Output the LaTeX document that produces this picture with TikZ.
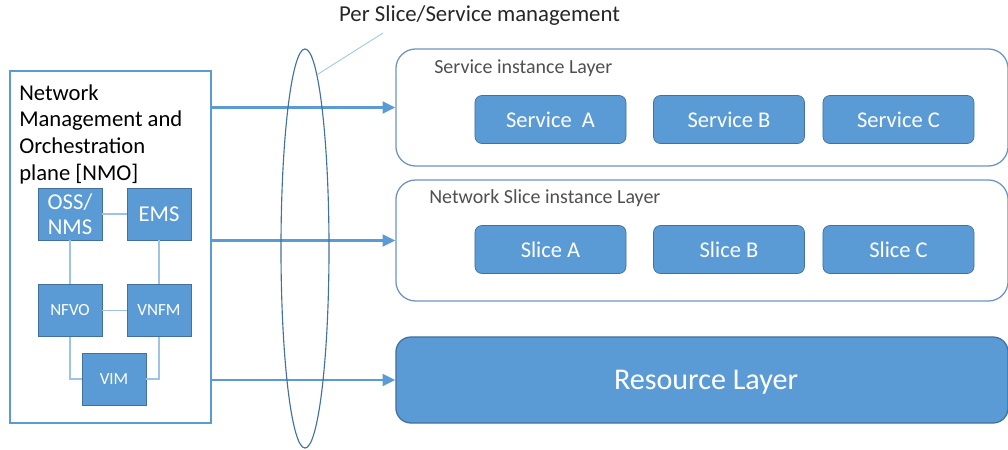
\documentclass[tikz,border=0pt]{standalone}
\usepackage{fontspec}
\setmainfont{Carlito}
\usepackage{tikz}
\usetikzlibrary{shapes,arrows.meta}
\definecolor{boxblue}{HTML}{5B9BD5}
\definecolor{edgeblue}{HTML}{41719C}
\definecolor{lineblue}{HTML}{9DC3E6}
\definecolor{frameblue}{HTML}{6C93C4}
\definecolor{labelgrey}{HTML}{505050}
\definecolor{titlegrey}{HTML}{262626}
\tikzstyle{block}=[rectangle,fill=boxblue,draw=edgeblue,line width=0.5pt,text=white,inner sep=0pt,minimum width=1.6cm,minimum height=1.3cm]

\begin{document}
\begin{tikzpicture}[x=0.025cm,y=-0.025cm]
    \tikzstyle{block}=[rectangle,fill=boxblue,draw=edgeblue,line width=0.5pt,text=white,inner sep=0pt,minimum width=1.6cm,minimum height=1.3cm]
    \tikzstyle{nfvblock}=[block,font=\fontsize{12.1}{14}\selectfont]
    \tikzstyle{item}=[block,rounded corners=5pt,minimum width=3.775cm,minimum height=1.2cm,font=\fontsize{16}{19}\selectfont]
    \tikzstyle{layer}=[rectangle,rounded corners=14pt,draw=frameblue,line width=0.9pt,minimum width=15.3cm,inner sep=0pt]
    \tikzstyle{layerlabel}=[anchor=west,inner sep=0pt,text=labelgrey,font=\fontsize{14.2}{17}\selectfont]
    \tikzstyle{feed}=[draw=boxblue,line width=1.6pt,-{Triangle[length=9pt,width=8.5pt]}]
    \tikzstyle{link}=[draw=lineblue,line width=0.8pt]
    \useasboundingbox (0,0) rectangle (1008,449);

    % management plane
    \node[draw=boxblue,line width=0.8pt,minimum width=5.025cm,minimum height=8.8cm,inner sep=0pt] (NMO) at (110.5,247) {};
    \node[anchor=north west,inner sep=0pt,align=left,font=\fontsize{16.1}{19}\selectfont] (NMOtext) at (19,84) {Network\\Management and\\Orchestration\\plane [NMO]};
    \node[block,align=center,font=\fontsize{16.1}{17.8}\selectfont] (OSS) at (70,214) {OSS/\\NMS};
    \node[block,font=\fontsize{16.1}{19}\selectfont] (EMS) at (159,214) {EMS};
    \node[nfvblock] (NFVO) at (70,310.5) {NFVO};
    \node[nfvblock] (VNFM) at (159,310.5) {VNFM};
    \node[nfvblock] (VIM) at (114,379) {VIM};
    \draw[link] (OSS) -- (EMS);
    \draw[link] (OSS) -- (NFVO);
    \draw[link] (EMS) -- (VNFM);
    \draw[link] (NFVO) -- (VNFM);
    \draw[link] (NFVO) |- (VIM);
    \draw[link] (VNFM) |- (VIM);

    % layers
    \node[layer,minimum height=2.925cm] (SIL) at (702,107.5) {};
    \node[layer,minimum height=3.025cm] (NSIL) at (702,240.5) {};
    \node[layer,fill=boxblue,draw=edgeblue,rounded corners=10.7pt,minimum height=2.15cm] (RL) at (702,380) {};
    \node[text=white,inner sep=0pt,font=\fontsize{21.4}{25}\selectfont] (RLtext) at (706,382) {Resource Layer};
    \node[layerlabel] (SILtext) at (434,68) {Service instance Layer};
    \node[layerlabel] (NSILtext) at (429,198) {Network Slice instance Layer};
    \node[item] (SA) at (550.5,119.5) {Service~ A};
    \node[item] (SB) at (729,119.5) {Service B};
    \node[item] (SC) at (898.5,119.5) {Service C};
    \node[item] (SLA) at (550.5,249.5) {Slice A};
    \node[item] (SLB) at (729,249.5) {Slice B};
    \node[item] (SLC) at (898.5,249.5) {Slice C};

    \draw[feed] (NMO.east |- SIL.west) -- (SIL.west);
    \draw[feed] (NMO.east |- NSIL.west) -- (NSIL.west);
    \draw[feed] (NMO.east |- RL.west) -- (RL.west);

    % per slice management
    \node[ellipse,draw=edgeblue,line width=0.8pt,minimum width=1.2cm,minimum height=9.975cm,inner sep=0pt] (ring) at (305,248.5) {};
    \node[inner sep=0pt,text=titlegrey,font=\fontsize{16.2}{19}\selectfont] (title) at (479.5,16) {Per Slice/Service management};
    \coordinate (callout) at (383,33);
    \draw[link,line width=0.6pt] (ring.86) -- (callout);
\end{tikzpicture}
\end{document}
